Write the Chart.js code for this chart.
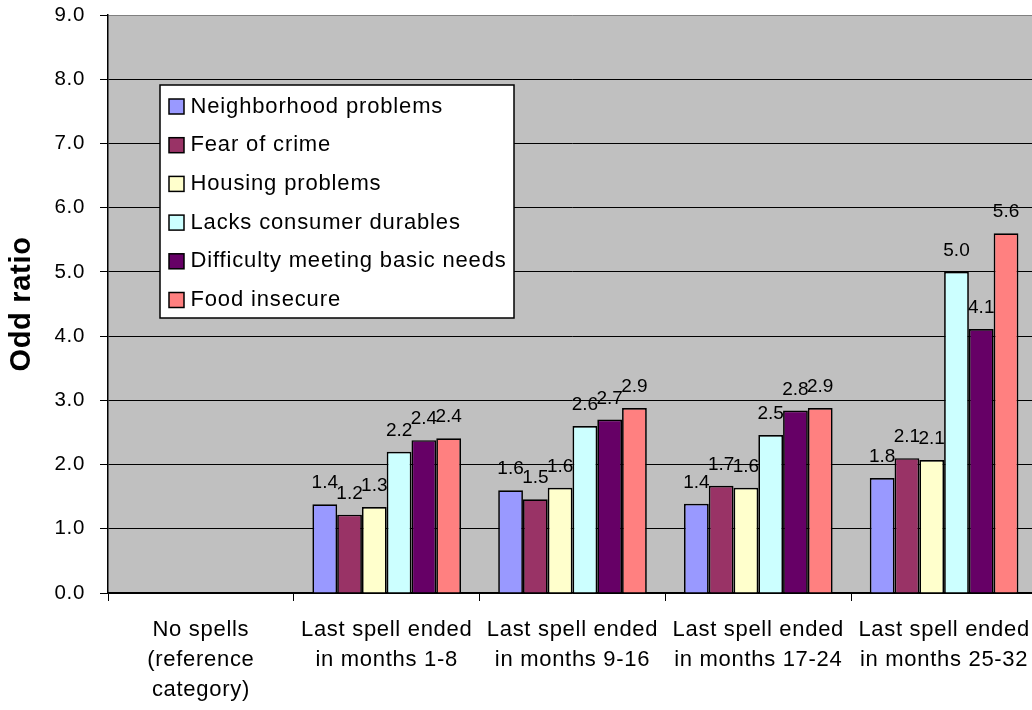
<!DOCTYPE html>
<html>
<head>
<meta charset="utf-8">
<title>Odd ratio by time since last spell</title>
<script src="https://cdn.jsdelivr.net/npm/chart.js@4.4.0/dist/chart.umd.min.js"></script>
<style>
  html, body { margin: 0; padding: 0; background: #ffffff; overflow: hidden; }
  #wrap { width: 1040px; height: 710px; }
  canvas { display: block; }
</style>
</head>
<body>
<div id="wrap"><canvas id="chart" width="1040" height="710"></canvas></div>
<script>
// Categories (multi-line axis labels)
const categories = [
  ['No spells', '(reference', 'category)'],
  ['Last spell ended', 'in months 1-8'],
  ['Last spell ended', 'in months 9-16'],
  ['Last spell ended', 'in months 17-24'],
  ['Last spell ended', 'in months 25-32']
];

// Series names and fill colours
const seriesNames = [
  'Neighborhood problems',
  'Fear of crime',
  'Housing problems',
  'Lacks consumer durables',
  'Difficulty meeting basic needs',
  'Food insecure'
];
const seriesColors = ['#9999FF', '#993366', '#FFFFCC', '#CCFFFF', '#660066', '#FF8080'];

// Odd ratios per category (reference category has no bars)
const neighborhoodProblems = [null, 1.38, 1.60, 1.39, 1.79];
const fearOfCrime          = [null, 1.22, 1.46, 1.67, 2.10];
const housingProblems      = [null, 1.34, 1.64, 1.64, 2.07];
const lacksDurables        = [null, 2.20, 2.60, 2.46, 5.00];
const difficultyBasicNeeds = [null, 2.38, 2.70, 2.84, 4.11];
const foodInsecure         = [null, 2.41, 2.88, 2.88, 5.60];

// Value axis
const yTickLabels = ['0.0', '1.0', '2.0', '3.0', '4.0', '5.0', '6.0', '7.0', '8.0', '9.0'];
const yTitle = 'Odd ratio';

const seriesValues = [
  neighborhoodProblems, fearOfCrime, housingProblems,
  lacksDurables, difficultyBasicNeeds, foodInsecure
];

const FONT = '"Liberation Sans", Arial, Helvetica, sans-serif';
Chart.defaults.font.family = FONT;
Chart.defaults.color = '#000000';

// Slightly widened text tracking, as in office-style rendering
const tracking = {
  id: 'tracking',
  beforeUpdate(chart) { chart.ctx.letterSpacing = '0.7px'; },
  beforeLayout(chart) { chart.ctx.letterSpacing = '0.7px'; },
  beforeDraw(chart) { chart.ctx.letterSpacing = '0.7px'; }
};

// Grey plot-area fill
const plotBackground = {
  id: 'plotBackground',
  beforeDraw(chart) {
    const { ctx, chartArea: a } = chart;
    ctx.save();
    ctx.fillStyle = '#C0C0C0';
    ctx.fillRect(a.left, a.top, a.right - a.left, a.bottom - a.top);
    ctx.restore();
  }
};

// Value labels above each bar
const barValueLabels = {
  id: 'barValueLabels',
  afterDatasetsDraw(chart) {
    const { ctx } = chart;
    ctx.save();
    ctx.letterSpacing = '0px';
    ctx.font = '19px ' + FONT;
    ctx.fillStyle = '#000000';
    ctx.textAlign = 'center';
    ctx.textBaseline = 'alphabetic';
    chart.data.datasets.forEach((ds, i) => {
      const meta = chart.getDatasetMeta(i);
      meta.data.forEach((bar, j) => {
        const v = ds.data[j];
        if (v === null || v === undefined) return;
        ctx.fillText(v.toFixed(1), bar.x, bar.y - 16);
      });
    });
    ctx.restore();
  }
};

// Boxed legend placed inside the plot area
const boxedLegend = {
  id: 'boxedLegend',
  afterDraw(chart) {
    const { ctx } = chart;
    const box = { x: 160, y: 85, w: 354, h: 233 };
    const rowStart = 106.5, rowStep = 38.7, swatch = 15;
    ctx.save();
    ctx.fillStyle = '#FFFFFF';
    ctx.fillRect(box.x, box.y, box.w, box.h);
    ctx.strokeStyle = '#000000';
    ctx.lineWidth = 1.5;
    ctx.strokeRect(box.x, box.y, box.w, box.h);
    ctx.font = '22px ' + FONT;
    ctx.letterSpacing = '0.85px';
    ctx.textAlign = 'left';
    ctx.textBaseline = 'middle';
    chart.data.datasets.forEach((ds, i) => {
      const cy = rowStart + i * rowStep;
      ctx.fillStyle = ds.backgroundColor;
      ctx.fillRect(169, cy - swatch / 2, swatch, swatch);
      ctx.lineWidth = 1.5;
      ctx.strokeStyle = '#000000';
      ctx.strokeRect(169, cy - swatch / 2, swatch, swatch);
      ctx.fillStyle = '#000000';
      ctx.fillText(ds.label, 190.5, cy);
    });
    ctx.restore();
  }
};

new Chart(document.getElementById('chart'), {
  type: 'bar',
  data: {
    labels: categories,
    datasets: seriesNames.map((name, i) => ({
      label: name,
      data: seriesValues[i],
      backgroundColor: seriesColors[i],
      borderColor: '#000000',
      borderWidth: 1.7
    }))
  },
  options: {
    responsive: false,
    animation: false,
    devicePixelRatio: 1,
    layout: { padding: { top: 15, right: 3, bottom: 0, left: 0 } },
    datasets: { bar: { categoryPercentage: 0.8, barPercentage: 1.0 } },
    plugins: { legend: { display: false }, tooltip: { enabled: false } },
    scales: {
      x: {
        grid: {
          offset: true, drawOnChartArea: false,
          color: '#000000', tickColor: '#000000', tickLength: 8, lineWidth: 1
        },
        border: { color: '#000000', width: 1.5 },
        ticks: {
          color: '#000000', autoSkip: false, maxRotation: 0, padding: 14,
          font: { size: 22, lineHeight: 30 / 22 }
        },
        afterFit(s) { s.height = 117; s.paddingLeft = 0; s.paddingRight = 0; }
      },
      y: {
        min: 0, max: 9,
        ticks: {
          stepSize: 1, color: '#000000', padding: 15,
          font: { size: 20.5 },
          callback: (v) => yTickLabels[Math.round(v)]
        },
        grid: {
          color: (c) => (c.tick && c.tick.value === 9 ? '#808080' : '#000000'),
          tickColor: '#000000', tickLength: 8, lineWidth: 1
        },
        border: { color: '#000000', width: 1.5 },
        title: {
          display: true, text: yTitle, color: '#000000',
          font: { size: 29, weight: 'bold' },
          padding: { top: 5, bottom: 0 }
        },
        afterFit(s) { s.width = 108; s.paddingTop = 0; s.paddingBottom = 0; }
      }
    }
  },
  plugins: [tracking, plotBackground, barValueLabels, boxedLegend]
});
</script>
</body>
</html>
